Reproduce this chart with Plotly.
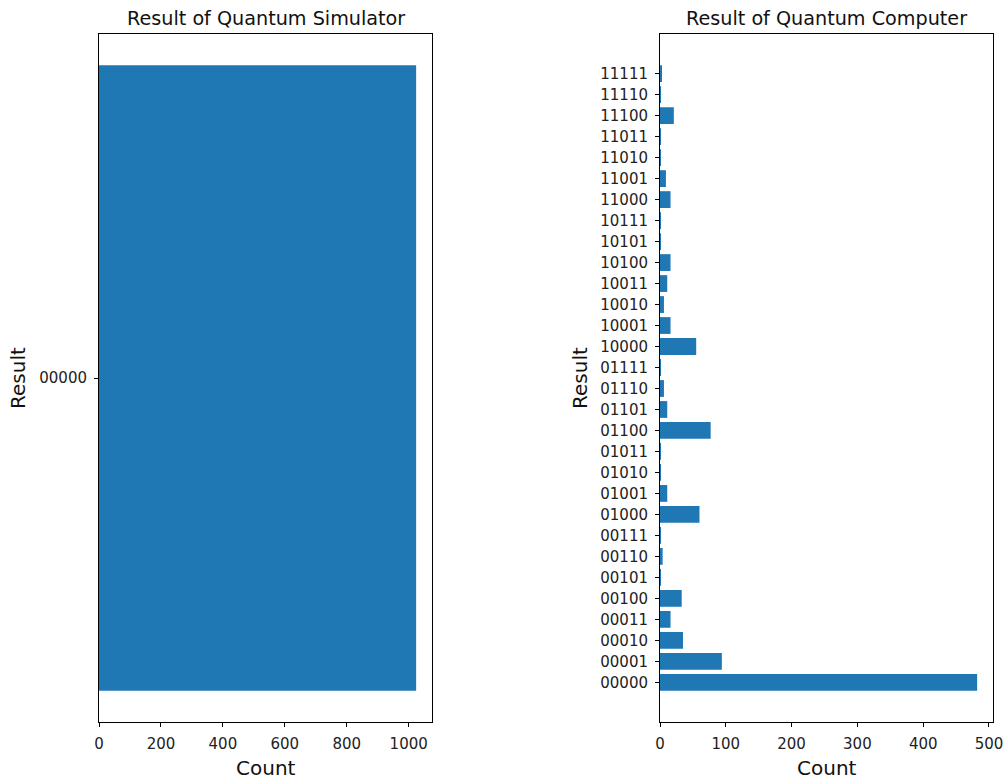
import plotly.graph_objects as go

sim_labels = ["00000"]
sim_counts = [1024]

qc_labels = ["00000", "00001", "00010", "00011", "00100", "00101", "00110", "00111",
             "01000", "01001", "01010", "01011", "01100", "01101", "01110", "01111",
             "10000", "10001", "10010", "10011", "10100", "10101", "10111",
             "11000", "11001", "11010", "11011", "11100", "11110", "11111"]
qc_counts = [482, 94, 35, 16, 33, 1, 4, 1,
             60, 11, 1, 1, 77, 11, 6, 1,
             55, 16, 6, 11, 16, 1, 1,
             16, 9, 1, 1, 21, 1, 3]

BLUE = "#1f77b4"
FONT = "DejaVu Sans"
W, H = 1005, 780

fig = go.Figure()
fig.add_trace(go.Bar(x=sim_counts, y=sim_labels, orientation="h", marker_color=BLUE,
                     marker_line_width=0, xaxis="x", yaxis="y", width=0.8))
fig.add_trace(go.Bar(x=qc_counts, y=qc_labels, orientation="h", marker_color=BLUE,
                     marker_line_width=0, xaxis="x2", yaxis="y2", width=0.8))

ydom = [1 - 722 / H, 1 - 34 / H]
axis_common = dict(showgrid=False, zeroline=False, showline=True, linecolor="black",
                   linewidth=1, mirror=True, ticks="outside", ticklen=4, tickcolor="black",
                   automargin=False, ticklabelstandoff=4,
                   tickfont=dict(family=FONT, size=15, color="#222"))

n = len(qc_labels)
fig.update_layout(
    width=W, height=H,
    margin=dict(l=0, r=0, t=0, b=0),
    paper_bgcolor="white", plot_bgcolor="white",
    showlegend=False,
    font=dict(family=FONT, color="#222"),
    xaxis=dict(domain=[99 / W, 432 / W], range=[0, 1024 * 1.05], tickvals=[0, 200, 400, 600, 800, 1000],
               anchor="y", **axis_common),
    yaxis=dict(domain=ydom, type="category", range=[-0.44, 0.44], anchor="x", **axis_common),
    xaxis2=dict(domain=[660 / W, 993 / W], range=[0, 482 * 1.05], tickvals=[0, 100, 200, 300, 400, 500],
                anchor="y2", **axis_common),
    yaxis2=dict(domain=ydom, type="category", range=[-0.4 - 0.05 * (n - 1 + 0.8), n - 1 + 0.4 + 0.05 * (n - 1 + 0.8)],
                categoryorder="array", categoryarray=qc_labels, anchor="x2", **axis_common),
)

ann = [
    dict(text="Result of Quantum Simulator", x=265.5 / W, y=1 - 18 / H, size=19.2, angle=0),
    dict(text="Result of Quantum Computer", x=826.5 / W, y=1 - 18 / H, size=19.2, angle=0),
    dict(text="Count", x=265.5 / W, y=1 - 768 / H, size=20, angle=0),
    dict(text="Count", x=826.5 / W, y=1 - 768 / H, size=20, angle=0),
    dict(text="Result", x=18 / W, y=1 - 378 / H, size=20, angle=-90),
    dict(text="Result", x=580 / W, y=1 - 378 / H, size=20, angle=-90),
]
for a in ann:
    fig.add_annotation(text=a["text"], x=a["x"], y=a["y"], xref="paper", yref="paper",
                       xanchor="center", yanchor="middle", showarrow=False, textangle=a["angle"],
                       font=dict(family=FONT, size=a["size"], color="#111"))

fig.write_html(
    "out.html",
    config={"displayModeBar": False, "responsive": False},
    post_script="document.body.style.margin='0';document.body.style.padding='0';"
                "document.body.style.overflow='hidden';document.documentElement.style.overflow='hidden';",
)
